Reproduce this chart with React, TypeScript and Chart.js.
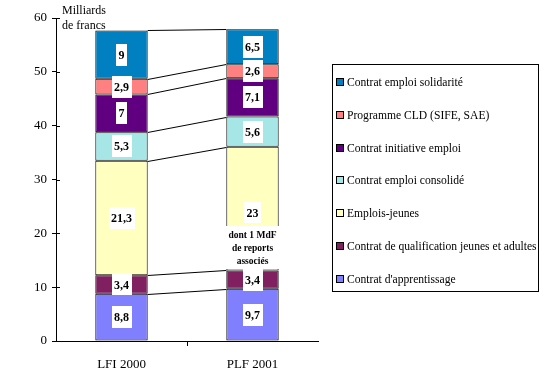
import React, { useEffect, useRef } from "react";
import { Chart, registerables } from "chart.js";

Chart.register(...registerables);

const categories = ["LFI 2000", "PLF 2001"];

// bottom to top
const seriesNames = [
  "Contrat d'apprentissage",
  "Contrat de qualification jeunes et adultes",
  "Emplois-jeunes",
  "Contrat emploi consolidé",
  "Contrat initiative emploi",
  "Programme CLD (SIFE, SAE)",
  "Contrat emploi solidarité",
];
const apprentissage = [8.8, 9.7];
const qualification = [3.4, 3.4];
const emploisJeunes = [21.3, 23];
const emploiConsolide = [5.3, 5.6];
const initiativeEmploi = [7, 7.1];
const programmeCLD = [2.9, 2.6];
const emploiSolidarite = [9, 6.5];
const seriesValues = [
  apprentissage,
  qualification,
  emploisJeunes,
  emploiConsolide,
  initiativeEmploi,
  programmeCLD,
  emploiSolidarite,
];
const seriesColors = ["#8080FF", "#802060", "#FFFFC0", "#A6E6E6", "#600080", "#FF8080", "#0080C0"];
const yTicks = [0, 10, 20, 30, 40, 50, 60];
const axisTitle = ["Milliards", "de francs"];
const noteLines = ["dont 1 MdF", "de reports", "associés"];

const SERIF = "'Liberation Serif', serif";

const fmt = (v: number) => String(v).replace(".", ",");

const overlayPlugin = {
  id: "overlay",
  afterDatasetsDraw(chart: any) {
    const ctx = chart.ctx;
    const area = chart.chartArea;
    const y = chart.scales.y;
    ctx.save();
    ctx.strokeStyle = "#000";
    ctx.lineWidth = 1;
    yTicks.forEach((t) => {
      const py = Math.round(y.getPixelForValue(t)) + 0.5;
      ctx.beginPath();
      ctx.moveTo(area.left, py);
      ctx.lineTo(area.left + 4, py);
      ctx.stroke();
    });
    const midX = Math.round((area.left + area.right) / 2) + 0.5;
    ctx.beginPath();
    ctx.moveTo(midX, area.bottom);
    ctx.lineTo(midX, area.bottom + 5);
    ctx.stroke();

    seriesValues.forEach((_, k) => {
      const m = chart.getDatasetMeta(k);
      const a = m.data[0] as any;
      const b = m.data[1] as any;
      ctx.beginPath();
      ctx.moveTo(a.x + a.width / 2, Math.round(a.y) + 0.5);
      ctx.lineTo(b.x - b.width / 2, Math.round(b.y) + 0.5);
      ctx.stroke();
    });

    const drawBox = (lines: string[], cx: number, cy: number, size: number, lh: number, boxH?: number) => {
      ctx.font = `bold ${size}px ${SERIF}`;
      let w = 0;
      lines.forEach((l) => (w = Math.max(w, ctx.measureText(l).width)));
      const h = boxH ?? lines.length * lh + 4;
      ctx.fillStyle = "#fff";
      ctx.fillRect(Math.round(cx - w / 2 - 2.5), Math.round(cy - h / 2), Math.round(w + 5), Math.round(h));
      ctx.fillStyle = "#000";
      ctx.textAlign = "center";
      ctx.textBaseline = "middle";
      lines.forEach((l, i) => {
        ctx.fillText(l, cx, cy - ((lines.length - 1) * lh) / 2 + i * lh + 1);
      });
    };
    seriesValues.forEach((vals, k) => {
      const m = chart.getDatasetMeta(k);
      vals.forEach((v, i) => {
        const el = m.data[i] as any;
        const cy = (el.y + el.base) / 2;
        if (k === 2 && i === 1) {
          drawBox([fmt(v)], el.x, cy + 4, 12, 14, 21);
          drawBox(noteLines, el.x, cy + 39, 9.5, 13);
        } else {
          drawBox([fmt(v)], el.x, cy, 12, 14, 22);
        }
      });
    });

    ctx.font = `12px ${SERIF}`;
    ctx.fillStyle = "#000";
    ctx.textAlign = "left";
    ctx.textBaseline = "middle";
    ctx.fillText(axisTitle[0], 62, 11);
    ctx.fillText(axisTitle[1], 62, 26);

    const lx = 332.5, ly = 64.5, lw = 206, lh = 227;
    ctx.fillStyle = "#fff";
    ctx.fillRect(lx, ly, lw, lh);
    ctx.strokeStyle = "#000";
    ctx.strokeRect(lx, ly, lw, lh);
    ctx.font = `11.6px ${SERIF}`;
    for (let j = 0; j < seriesNames.length; j++) {
      const k = seriesNames.length - 1 - j;
      const cy = 82 + j * 32.8;
      ctx.fillStyle = seriesColors[k];
      ctx.fillRect(336, Math.round(cy - 4), 8, 8);
      ctx.strokeStyle = "#000";
      ctx.strokeRect(336.5, Math.round(cy - 4) + 0.5, 7, 7);
      ctx.fillStyle = "#000";
      ctx.textAlign = "left";
      ctx.textBaseline = "middle";
      ctx.fillText(seriesNames[k], 347, cy + 1);
    }
    ctx.restore();
  },
};

export default function App() {
  const ref = useRef<HTMLCanvasElement>(null);
  useEffect(() => {
    if (!ref.current) return;
    const chart = new Chart(ref.current, {
      type: "bar",
      data: {
        labels: categories,
        datasets: seriesValues.map((vals, k) => ({
          label: seriesNames[k],
          data: vals,
          backgroundColor: seriesColors[k],
          borderColor: "#000",
          borderWidth: 1,
          borderSkipped: false,
          barPercentage: 0.4,
          categoryPercentage: 1,
        })),
      },
      options: {
        animation: false,
        responsive: true,
        maintainAspectRatio: false,
        layout: { padding: { left: 0, top: 18, right: 229, bottom: 0 } },
        plugins: { legend: { display: false }, tooltip: { enabled: false } },
        scales: {
          x: {
            stacked: true,
            grid: { display: false },
            border: { display: true, color: "#000", width: 1 },
            ticks: { color: "#000", font: { family: SERIF, size: 13 }, padding: 8 },
            afterFit: (s: any) => {
              s.height = 38;
            },
          },
          y: {
            stacked: true,
            min: 0,
            max: 60,
            ticks: { stepSize: 10, color: "#000", font: { family: SERIF, size: 13 }, padding: 5 },
            grid: { drawOnChartArea: false, color: "#000", tickLength: 4 },
            border: { display: true, color: "#000", width: 1 },
            afterFit: (s: any) => {
              s.width = 56;
            },
          },
        },
      },
      plugins: [overlayPlugin],
    });
    let alive = true;
    const fonts = (document as any).fonts;
    if (fonts && fonts.load) {
      Promise.all([
        fonts.load(`12px 'Liberation Serif'`),
        fonts.load(`bold 12px 'Liberation Serif'`),
      ]).then(() => {
        if (alive) chart.update();
      });
    }
    return () => {
      alive = false;
      chart.destroy();
    };
  }, []);
  return (
    <div style={{ position: "absolute", left: 0, top: 0, width: 547, height: 379, background: "#fff" }}>
      <canvas ref={ref} />
    </div>
  );
}
